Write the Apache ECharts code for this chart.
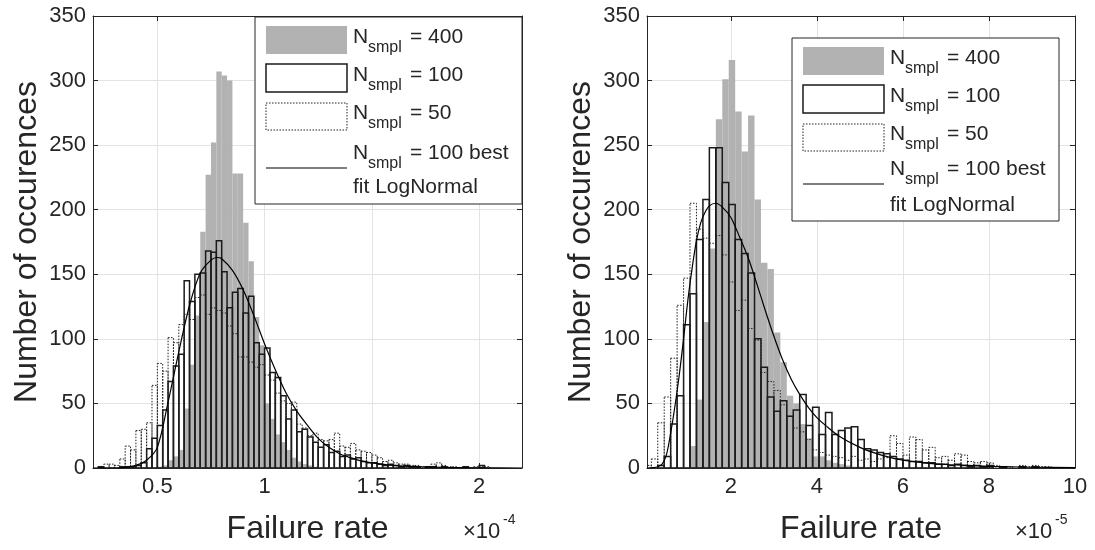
<!DOCTYPE html>
<html>
<head>
<meta charset="utf-8">
<script src="https://cdn.jsdelivr.net/npm/echarts@6/dist/echarts.min.js"></script>
<style>
  html, body { margin: 0; padding: 0; background: #fff; }
  #frame { width: 1095px; height: 550px; }
</style>
</head>
<body>
<div id="frame"></div>
<script>
// left panel, failure rate in units of 1e-4, bins of 0.025 from 0.2
const leftBinStart = 0.2;
const leftBinWidth = 0.025;
const left400 = [0,0,0,0,0,0,0,0,0,0,0,0,1,2,6,9,14,46,80,118,183,227,252,307,304,300,228,228,190,160,117,95,50,38,26,20,14,8,5,3,2,1];
const left100 = [0,1,0,0,0,1,1,1,2,4,15,23,33,45,67,79,88,145,129,150,151,168,167,176,152,124,136,139,120,133,97,88,93,74,70,56,38,45,28,30,24,20,16,18,12,13,9,10,7,8,5,4,4,3,2,3,2,1,2,1,1,0,1,1,0,1,0,0,0,1,0,0,2,0];
const left50 = [0,1,3,3,2,7,17,14,29,30,35,64,81,75,101,97,111,119,115,132,134,119,124,122,120,110,104,86,86,82,78,80,72,68,58,52,50,51,34,31,25,27,22,21,22,27,17,16,19,14,13,12,10,8,5,6,4,3,3,2,2,1,1,3,4,2,1,1,0,1,0,1,1,1];
const leftFitX = [0.2,0.3,0.35,0.4,0.45,0.5,0.55,0.6,0.65,0.7,0.75,0.78,0.8,0.85,0.9,0.95,1.0,1.05,1.1,1.15,1.2,1.25,1.3,1.35,1.4,1.45,1.5,1.6,1.7,1.85,2.0,2.2];
const leftFitY = [0,0.1,0.5,2,6,16,51,90,126,151,161,163,162,153,138,118,96,76,58,44,33,23,16,11,8,5.5,4,2,1,0.4,0.1,0];
const leftTicks = [0.5, 1, 1.5, 2];

// right panel, failure rate in units of 1e-5, bins of 0.15 from 0
const rightBinStart = 0;
const rightBinWidth = 0.15;
const right400 = [0,0,0,0,0,0,0,17,53,113,170,270,301,316,276,245,273,208,159,154,105,82,56,50,34,23,9,9,6,4,3,2,1,1];
const right100 = [0,0,2,9,34,56,111,135,177,208,248,248,221,204,177,166,151,100,78,55,44,52,40,45,57,33,47,26,43,26,29,31,32,22,15,14,12,11,9,7,6,5,5,4,4,3,3,2,3,2,1,2,1,2,0,1,0,0,1,0,1];
const right50 = [2,7,35,55,85,126,147,205,185,178,174,180,165,144,122,130,108,99,74,67,60,49,40,31,28,22,14,12,10,9,8,6,9,6,7,5,7,8,25,19,10,24,22,14,16,8,9,6,11,10,5,4,5,4,2,1,1,0,2,1,2,1,1];
const rightFitX = [0.05,0.2,0.3,0.4,0.5,0.6,0.7,0.8,0.9,1.0,1.1,1.2,1.3,1.4,1.5,1.65,1.8,2.0,2.2,2.4,2.6,2.8,3.0,3.2,3.4,3.6,3.8,4.0,4.2,4.5,5.0,5.5,6.0,6.5,7.0,7.5,8.0,9.0,10.0];
const rightFitY = [0,0.3,1,3,10,27,48,72,100,130,155,176,190,198,203,205,202,194,179,163,143,122,102,84,69,57,47,39,33,25,16,10,6,4,2.7,2,1.3,0.6,0.3];
const rightTicks = [2, 4, 6, 8, 10];

const yMax = 350;
const yStep = 50;

const legendRows = ['= 400', '= 100', '= 50', '= 100 best'];
const legendExtra = 'fit LogNormal';

const axisColor = '#262626';
const font = "'Liberation Sans', Arial, sans-serif";
const gray = '#b2b2b2';
const edge100 = '#1a1a1a';
const edge50 = '#222';

function toBins(start, width, counts) {
  return counts.map((c, i) => [start + i * width, start + (i + 1) * width, c]);
}

function pairs(xs, ys) {
  return xs.map((x, i) => [x, ys[i]]);
}

function histSeries(name, axis, data, style, z) {
  return {
    type: 'custom',
    name: name,
    xAxisIndex: axis,
    yAxisIndex: axis,
    clip: true,
    z: z,
    silent: true,
    encode: { x: [0, 1], y: 2 },
    data: data,
    renderItem: function (params, api) {
      if (api.value(2) <= 0) return null;
      const a = api.coord([api.value(0), 0]);
      const b = api.coord([api.value(1), api.value(2)]);
      return {
        type: 'rect',
        shape: { x: a[0], y: b[1], width: b[0] - a[0], height: a[1] - b[1] },
        style: style
      };
    }
  };
}

function fitSeries(axis, data) {
  return {
    type: 'line',
    name: 'fit',
    xAxisIndex: axis,
    yAxisIndex: axis,
    data: data,
    symbol: 'none',
    smooth: 0.3,
    clip: true,
    z: 5,
    silent: true,
    lineStyle: { color: '#000', width: 1.2 }
  };
}

function panelSeries(axis, start, width, c400, c100, c50, fit) {
  return [
    histSeries('n400', axis, toBins(start, width, c400), { fill: gray, stroke: null }, 2),
    histSeries('n100', axis, toBins(start, width, c100), { fill: 'none', stroke: edge100, lineWidth: 1.5 }, 3),
    histSeries('n50', axis, toBins(start, width, c50), { fill: 'none', stroke: edge50, lineWidth: 1, lineDash: [1.5, 1.5] }, 4),
    fitSeries(axis, fit)
  ];
}

function bottomAxis(grid, min, max, ticks) {
  return {
    type: 'value', gridIndex: grid, position: 'bottom', min: min, max: max,
    name: 'Failure rate', nameLocation: 'middle', nameGap: 45,
    nameTextStyle: { fontSize: 32, color: axisColor, fontFamily: font },
    axisLine: { show: true, onZero: false, lineStyle: { color: axisColor, width: 1 } },
    axisTick: { show: true, inside: true, length: 5, customValues: ticks, lineStyle: { color: axisColor } },
    axisLabel: { customValues: ticks, fontSize: 22, color: axisColor, fontFamily: font, margin: 8 },
    splitLine: { show: true, lineStyle: { color: '#e3e3e3' } }
  };
}

function topAxis(grid, min, max, ticks) {
  return {
    type: 'value', gridIndex: grid, position: 'top', min: min, max: max,
    axisLine: { show: true, onZero: false, lineStyle: { color: axisColor, width: 1 } },
    axisTick: { show: true, inside: true, length: 5, customValues: ticks, lineStyle: { color: axisColor } },
    axisLabel: { show: false },
    splitLine: { show: false }
  };
}

function leftAxis(grid) {
  return {
    type: 'value', gridIndex: grid, position: 'left', min: 0, max: yMax, interval: yStep,
    name: 'Number of occurences', nameLocation: 'middle', nameGap: 50,
    nameTextStyle: { fontSize: 32, color: axisColor, fontFamily: font },
    axisLine: { show: true, onZero: false, lineStyle: { color: axisColor, width: 1 } },
    axisTick: { show: true, inside: true, length: 5, lineStyle: { color: axisColor } },
    axisLabel: { fontSize: 22, color: axisColor, fontFamily: font, margin: 7 },
    splitLine: { show: true, lineStyle: { color: '#e3e3e3' } }
  };
}

function rightAxis(grid) {
  return {
    type: 'value', gridIndex: grid, position: 'right', min: 0, max: yMax, interval: yStep,
    axisLine: { show: true, onZero: false, lineStyle: { color: axisColor, width: 1 } },
    axisTick: { show: true, inside: true, length: 5, lineStyle: { color: axisColor } },
    axisLabel: { show: false },
    splitLine: { show: false }
  };
}

function txt(x, y, text, size) {
  return {
    type: 'text', x: x, y: y, z: 101,
    style: { text: text, fontSize: size, fontFamily: font, fill: axisColor, align: 'left', verticalAlign: 'middle' }
  };
}

// legend box drawn as graphics so the subscripts sit like the original
function legendBox(bx, by, h, row4, lineY, extraY) {
  const rowsY = [20, 58, 96, row4];
  const els = [
    { type: 'rect', z: 100, shape: { x: bx, y: by, width: 267, height: h }, style: { fill: '#fff', stroke: axisColor, lineWidth: 1 } },
    { type: 'rect', z: 101, shape: { x: bx + 11, y: by + 9, width: 81, height: 28 }, style: { fill: gray } },
    { type: 'rect', z: 101, shape: { x: bx + 11, y: by + 47, width: 81, height: 28 }, style: { fill: '#fff', stroke: edge100, lineWidth: 1.5 } },
    { type: 'rect', z: 101, shape: { x: bx + 11, y: by + 86, width: 81, height: 27 }, style: { fill: '#fff', stroke: edge50, lineWidth: 1, lineDash: [1.5, 1.5] } },
    { type: 'line', z: 101, shape: { x1: bx + 11, y1: by + lineY, x2: bx + 92, y2: by + lineY }, style: { stroke: '#000', lineWidth: 1.2 } }
  ];
  legendRows.forEach((label, i) => {
    els.push(txt(bx + 98, by + rowsY[i], 'N', 21));
    els.push(txt(bx + 113, by + rowsY[i] + 11, 'smpl', 16));
    els.push(txt(bx + 155, by + rowsY[i], label, 21));
  });
  els.push(txt(bx + 98, by + extraY, legendExtra, 21));
  return els;
}

function expLabel(x, exp) {
  return [
    txt(x, 532, '×10', 22),
    txt(x + 40, 520, exp, 14)
  ];
}

const chart = echarts.init(document.getElementById('frame'));
chart.setOption({
  animation: false,
  backgroundColor: '#fff',
  grid: [
    { left: 93, top: 16, width: 429, height: 454 },
    { left: 647, top: 16, width: 428, height: 454 }
  ],
  xAxis: [
    bottomAxis(0, 0.2, 2.2, leftTicks),
    topAxis(0, 0.2, 2.2, leftTicks),
    bottomAxis(1, 0.05, 10, rightTicks),
    topAxis(1, 0.05, 10, rightTicks)
  ],
  yAxis: [leftAxis(0), rightAxis(0), leftAxis(1), rightAxis(1)],
  graphic: [].concat(
    legendBox(255, 17, 187, 136, 151, 170),
    legendBox(792, 38, 183, 131, 146, 167),
    expLabel(463, '-4'),
    expLabel(1015, '-5')
  ),
  series: panelSeries(0, leftBinStart, leftBinWidth, left400, left100, left50, pairs(leftFitX, leftFitY))
    .concat(panelSeries(2, rightBinStart, rightBinWidth, right400, right100, right50, pairs(rightFitX, rightFitY)))
});
</script>
</body>
</html>
